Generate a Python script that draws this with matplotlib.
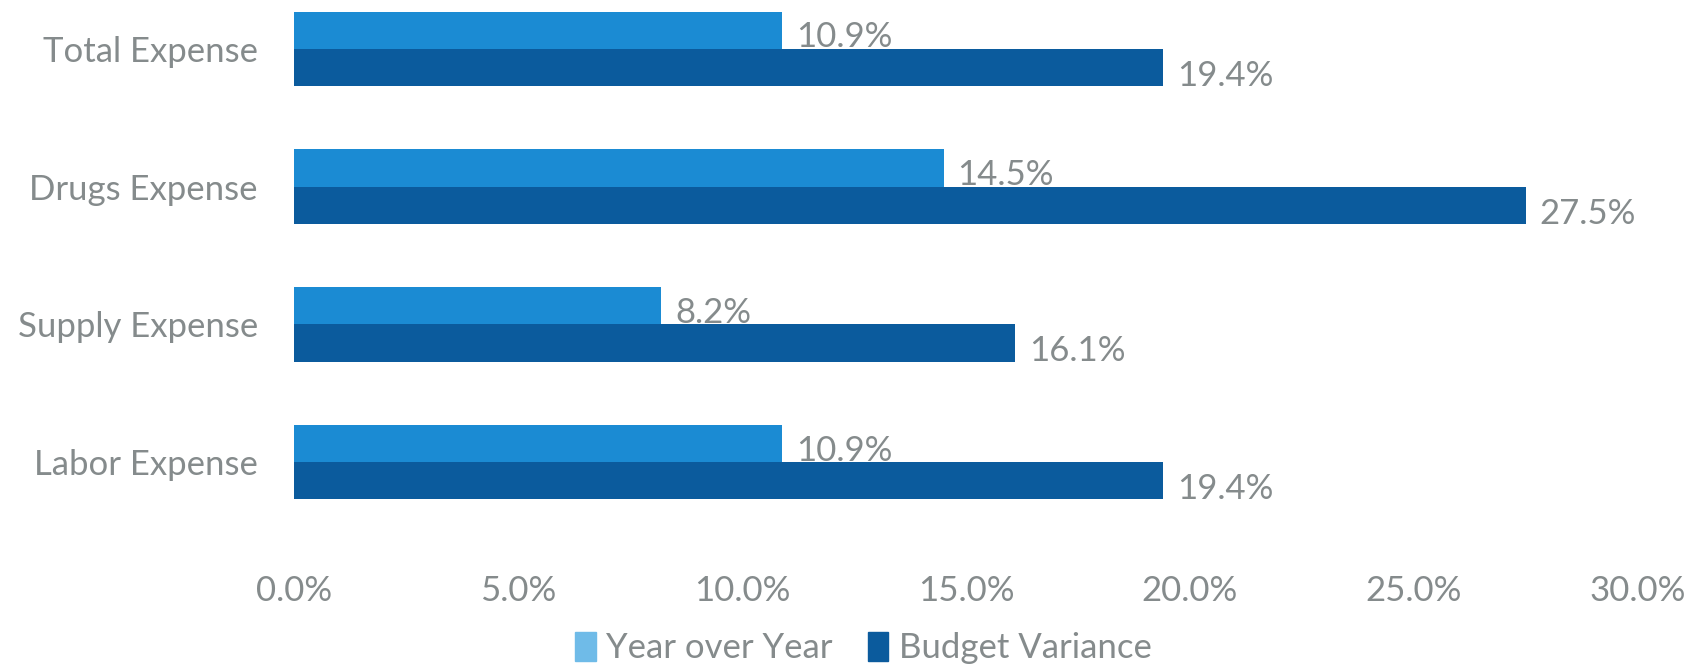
import numpy as np
import matplotlib
matplotlib.use("Agg")
import matplotlib.pyplot as plt
from matplotlib.patches import Patch

# expense categories, listed bottom to top
categories = ["Labor Expense", "Supply Expense", "Drugs Expense", "Total Expense"]
year_over_year = [10.9, 8.2, 14.5, 10.9]
budget_variance = [19.4, 16.1, 27.5, 19.4]
xticks = [0, 5, 10, 15, 20, 25, 30]

light_blue = "#1b8bd3"
dark_blue = "#0b5b9d"
text_grey = "#858b8c"

plt.rcParams["font.family"] = ["Lato", "DejaVu Sans"]

fig = plt.figure(figsize=(17.03, 6.66), dpi=100)
ax = fig.add_axes([0.1726, 0.189, 0.7892, 0.811])

y = np.arange(len(categories))
h = 0.27

ax.barh(y + h / 2, year_over_year, height=h, color=light_blue)
ax.barh(y - h / 2, budget_variance, height=h, color=dark_blue)

# value labels just past each bar end
for yi, a, b in zip(y, year_over_year, budget_variance):
    ax.annotate(f"{a:.1f}%", (a, yi + h / 2), xytext=(10, -5), textcoords="offset points",
                va="center", ha="left", fontsize=25, color=text_grey)
    ax.annotate(f"{b:.1f}%", (b, yi - h / 2), xytext=(10, -6), textcoords="offset points",
                va="center", ha="left", fontsize=25, color=text_grey)

ax.set_xlim(0, 30)
ax.set_ylim(-0.566, 3.355)
ax.set_xticks(xticks)
ax.set_xticklabels([f"{t:.1f}%" for t in xticks])
ax.set_yticks(y)
ax.set_yticklabels(categories)
ax.tick_params(axis="both", length=0, labelsize=25, labelcolor=text_grey)
ax.tick_params(axis="x", pad=25)
ax.tick_params(axis="y", pad=26)
for s in ax.spines.values():
    s.set_visible(False)

handles = [Patch(color="#6fbbe8", label="Year over Year"),
           Patch(color=dark_blue, label="Budget Variance")]
leg = fig.legend(handles=handles, loc="center", bbox_to_anchor=(0.507, 0.027), ncol=2,
                 frameon=False, fontsize=25, handlelength=0.6, handleheight=0.9,
                 handletextpad=0.3, columnspacing=1.0)
for t in leg.get_texts():
    t.set_color(text_grey)

fig.savefig("out.png", dpi=100)
